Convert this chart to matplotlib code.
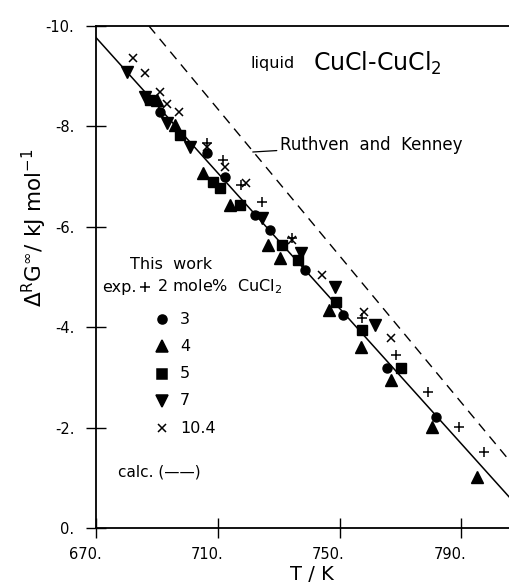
import matplotlib
matplotlib.use("Agg")
import matplotlib.pyplot as plt
import matplotlib.transforms as mtransforms

# data: T in K, Delta_R G^inf in kJ/mol
T_2 = [706.4, 711.6, 717.5, 724.4, 734.3, 757.5, 768.7, 778.9, 789.3, 797.5]
G_2 = [-7.67, -7.33, -6.83, -6.49, -5.78, -4.18, -3.45, -2.71, -2.01, -1.51]

T_3 = [691.0, 706.4, 712.3, 722.1, 727.0, 738.5, 751.0, 765.7, 781.8]
G_3 = [-8.29, -7.47, -6.99, -6.24, -5.94, -5.14, -4.24, -3.19, -2.21]

T_4 = [690.0, 695.9, 705.1, 713.9, 726.4, 730.3, 746.7, 757.2, 767.0, 780.5, 795.2]
G_4 = [-8.53, -8.03, -7.07, -6.43, -5.64, -5.38, -4.34, -3.61, -2.95, -2.01, -1.02]

T_5 = [687.7, 697.5, 708.4, 710.7, 717.2, 731.0, 736.2, 749.0, 757.5, 770.3]
G_5 = [-8.53, -7.83, -6.89, -6.77, -6.43, -5.64, -5.34, -4.50, -3.94, -3.19]

T_7 = [680.2, 686.1, 693.3, 700.8, 724.4, 737.5, 748.4, 761.5]
G_7 = [-9.08, -8.59, -8.07, -7.59, -6.18, -5.48, -4.80, -4.04]

T_104 = [682.1, 686.1, 691.0, 693.3, 697.2, 706.4, 712.3, 719.2, 734.3, 744.1, 758.2, 767.0]
G_104 = [-9.36, -9.06, -8.69, -8.45, -8.29, -7.59, -7.19, -6.87, -5.74, -5.04, -4.30, -3.78]

# calculated line and Ruthven & Kenney line (end points)
calc_T = [670.0, 806.0]
calc_G = [-9.77, -0.60]
rk_T = [687.4, 806.0]
rk_G = [-10.0, -1.33]

xticks = [670, 710, 750, 790]
yticks = [-10, -8, -6, -4, -2, 0]

fig = plt.figure(figsize=(5.1, 5.83), dpi=100)
ax = fig.add_axes([96 / 510, 1 - 528 / 583, 414 / 510, 502 / 583])

ax.plot(calc_T, calc_G, color="black", lw=1.1)
ax.plot(rk_T, rk_G, color="black", lw=1.0, dashes=(7, 5))

ax.plot(T_2, G_2, "+", color="black", ms=7, mew=1.1, ls="none")
ax.plot(T_3, G_3, "o", color="black", ms=6.5, ls="none")
ax.plot(T_4, G_4, "^", color="black", ms=9, ls="none")
ax.plot(T_5, G_5, "s", color="black", ms=6.5, ls="none")
ax.plot(T_7, G_7, "v", color="black", ms=9, ls="none")
ax.plot(T_104, G_104, "x", color="black", ms=6, mew=1.1, ls="none")

ax.set_xlim(670, 806)
ax.set_ylim(0, -10)

ax.set_xticks(xticks)
ax.set_xticklabels([f"{t}." for t in xticks])
ax.set_yticks(yticks)
ax.set_yticklabels([f"{t}." for t in yticks])
ax.tick_params(direction="inout", length=15, width=1.0, labelsize=10.5,
               top=False, right=False)
ax.tick_params(axis="x", pad=6)
ax.tick_params(axis="y", pad=8)
for lab in ax.get_xticklabels():
    lab.set_transform(lab.get_transform() +
                      mtransforms.ScaledTranslation(-11 / 100, 0, fig.dpi_scale_trans))

ax.spines["right"].set_visible(False)
for s in ["left", "bottom", "top"]:
    ax.spines[s].set_linewidth(1.3)

# annotations
ax.text(0.372, 0.926, "liquid", transform=ax.transAxes, fontsize=11.5, va="center")
ax.text(0.524, 0.926, "CuCl-CuCl$_2$", transform=ax.transAxes, fontsize=17, va="center")
ax.annotate("Ruthven  and  Kenney", xy=(721.5, -7.49), xytext=(730.3, -7.63),
            fontsize=12, va="center",
            arrowprops=dict(arrowstyle="-", color="black", lw=0.9,
                            shrinkA=0, shrinkB=0))

# key
fs = 11.5
ax.text(0.082, 0.524, "This  work", transform=ax.transAxes, fontsize=fs, va="center")
ax.text(0.099, 0.480, "exp.", transform=ax.transAxes, fontsize=fs, va="center", ha="right")
ax.plot(0.118, 0.480, "+", color="black", ms=7, mew=1.1, transform=ax.transAxes)
ax.text(0.147, 0.480, "2 mole%  CuCl$_2$", transform=ax.transAxes, fontsize=fs, va="center")
key = [("o", 6.5, "3"), ("^", 9, "4"), ("s", 6.5, "5"), ("v", 9, "7"), ("x", 6, "10.4")]
y0, dy = 0.416, 0.0543
for i, (m, ms, lab) in enumerate(key):
    y = y0 - i * dy
    ax.plot(0.159, y, m, color="black", ms=ms, mew=1.1, transform=ax.transAxes)
    ax.text(0.203, y, lab, transform=ax.transAxes, fontsize=fs, va="center")
ax.text(0.053, 0.112, "calc. (——)", transform=ax.transAxes, fontsize=11, va="center")

fig.text(34 / 510, 1 - 228 / 583, r"$\Delta^{\mathrm{R}}\mathrm{G}^{\infty}$/ kJ mol$^{-1}$",
         rotation=90, ha="center", va="center", fontsize=15.5)
fig.text(312 / 510, 1 - 574 / 583, "T / K", ha="center", va="center", fontsize=14)

fig.savefig("out.png", dpi=100)
